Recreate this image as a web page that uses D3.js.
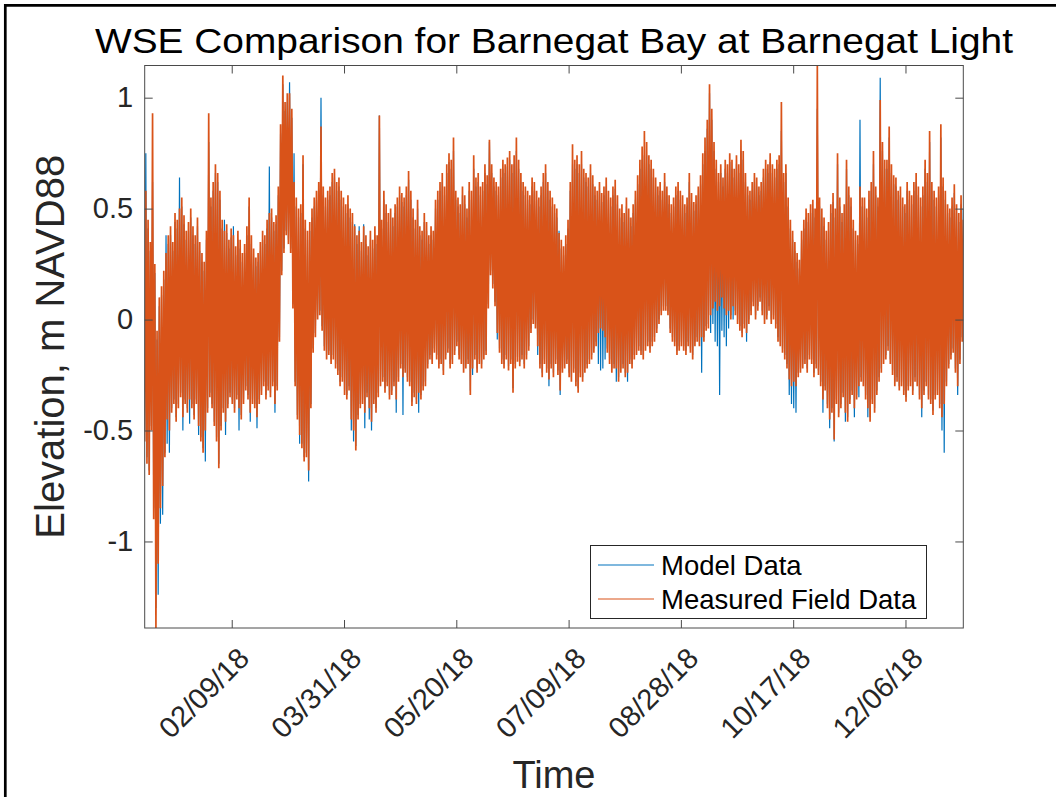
<!DOCTYPE html>
<html>
<head>
<meta charset="utf-8">
<script src="https://cdn.jsdelivr.net/npm/d3@7"></script>
<style>
  html, body { margin: 0; padding: 0; background: #fff; }
  svg { display: block; font-family: "Liberation Sans", Arial, Helvetica, sans-serif; }
</style>
</head>
<body>
<svg id="chart" width="1056" height="797"></svg>
<script>
// Daily water surface elevation extremes (m NAVD88), 2018, one high and one low per day.
const startDate = "2018-01-01";

const measuredHigh = [
  0.58, 0.45, 0.35, 0.93, 0.25, -0.05, 0.10, 0.15, 0.22, 0.30,
  0.38, 0.42, 0.35, 0.48, 0.45, 0.50, 0.55, 0.47, 0.40, 0.44,
  0.50, 0.42, 0.38, 0.46, 0.35, 0.30, 0.26, 0.40, 0.93, 0.55,
  0.62, 0.70, 0.66, 0.58, 0.45, 0.40, 0.43, 0.36, 0.41, 0.38,
  0.33, 0.40, 0.36, 0.30, 0.34, 0.42, 0.55, 0.38, 0.32, 0.28,
  0.30, 0.35, 0.40, 0.38, 0.45, 0.48, 0.50, 0.44, 0.47, 0.60,
  0.88, 1.10, 0.98, 1.02, 1.02, 0.95, 0.62, 0.55, 0.50, 0.52,
  0.74, 0.45, 0.40, 0.44, 0.50, 0.55, 0.58, 0.62, 0.87, 0.60,
  0.55, 0.58, 0.60, 0.66, 0.68, 0.62, 0.64, 0.58, 0.55, 0.52,
  0.56, 0.50, 0.48, 0.42, 0.38, 0.40, 0.35, 0.42, 0.38, 0.33,
  0.40, 0.36, 0.42, 0.38, 0.92, 0.45, 0.58, 0.52, 0.48, 0.50,
  0.46, 0.52, 0.55, 0.60, 0.57, 0.55, 0.60, 0.67, 0.58, 0.50,
  0.45, 0.54, 0.42, 0.40, 0.48, 0.44, 0.38, 0.42, 0.40, 0.54,
  0.58, 0.62, 0.66, 0.60, 0.70, 0.75, 0.72, 0.82, 0.58, 0.55,
  0.52, 0.60, 0.56, 0.50, 0.62, 0.58, 0.74, 0.64, 0.66, 0.60,
  0.62, 0.70, 0.65, 0.81, 0.70, 0.64, 0.62, 0.60, 0.68, 0.72,
  0.70, 0.73, 0.76, 0.70, 0.74, 0.82, 0.72, 0.66, 0.62, 0.60,
  0.58, 0.56, 0.64, 0.62, 0.58, 0.55, 0.60, 0.66, 0.70, 0.62,
  0.58, 0.55, 0.52, 0.50, 0.39, 0.36, 0.33, 0.38, 0.45, 0.62,
  0.79, 0.72, 0.74, 0.70, 0.76, 0.68, 0.66, 0.64, 0.70, 0.65,
  0.60, 0.58, 0.62, 0.57, 0.60, 0.64, 0.58, 0.55, 0.60, 0.63,
  0.56, 0.50, 0.52, 0.48, 0.55, 0.50, 0.46, 0.52, 0.58, 0.65,
  0.72, 0.78, 0.85, 0.80, 0.74, 0.72, 0.68, 0.64, 0.60, 0.62,
  0.58, 0.66, 0.60, 0.56, 0.52, 0.55, 0.60, 0.62, 0.58, 0.56,
  0.52, 0.55, 0.66, 0.57, 0.53, 0.56, 0.60, 0.65, 0.75, 0.82,
  0.90, 1.06, 0.95, 0.80, 0.72, 0.66, 0.70, 0.64, 0.72, 0.70,
  0.75, 0.72, 0.68, 0.74, 0.70, 0.81, 0.76, 0.66, 0.60, 0.58,
  0.62, 0.66, 0.64, 0.60, 0.62, 0.68, 0.72, 0.70, 0.75, 0.70,
  0.68, 0.72, 0.74, 0.98, 0.66, 0.70, 0.55, 0.45, 0.40, 0.35,
  0.30, 0.27, 0.40, 0.45, 0.50, 0.48, 0.52, 0.54, 0.50, 1.145,
  0.55, 0.50, 0.46, 0.40, 0.44, 0.52, 0.57, 0.50, 0.75, 0.55,
  0.48, 0.52, 0.72, 0.60, 0.55, 0.45, 0.40, 0.38, 0.60, 0.55,
  0.55, 0.50, 0.58, 0.62, 0.76, 0.60, 0.55, 0.99, 0.80, 0.72,
  0.72, 0.87, 0.70, 0.65, 0.64, 0.58, 0.60, 0.55, 0.52, 0.62,
  0.58, 0.56, 0.62, 0.66, 0.60, 0.55, 0.60, 0.72, 0.66, 0.85,
  0.62, 0.58, 0.55, 0.60, 0.88, 0.64, 0.58, 0.52, 0.50, 0.55,
  0.61, 0.52, 0.48, 0.56, 0.45
];

const measuredLow = [
  -0.55, -0.65, -0.70, -0.50, -0.90, -1.39, -1.10, -0.85, -0.75, -0.62,
  -0.45, -0.50, -0.42, -0.38, -0.46, -0.40, -0.35, -0.44, -0.38, -0.42,
  -0.36, -0.40, -0.45, -0.38, -0.48, -0.55, -0.60, -0.50, -0.42, -0.35,
  -0.40, -0.48, -0.55, -0.67, -0.50, -0.42, -0.46, -0.40, -0.35, -0.38,
  -0.42, -0.36, -0.40, -0.45, -0.38, -0.32, -0.36, -0.42, -0.38, -0.40,
  -0.44, -0.38, -0.34, -0.30, -0.36, -0.32, -0.35, -0.30, -0.38, -0.32,
  -0.10, 0.20, 0.30, 0.38, 0.34, 0.30, 0.05, -0.30, -0.45, -0.52,
  -0.58, -0.64, -0.62, -0.68, -0.40, -0.15, -0.08, 0.00, 0.02, -0.05,
  -0.14, -0.18, -0.16, -0.20, -0.18, -0.22, -0.25, -0.30, -0.28, -0.34,
  -0.36, -0.32, -0.45, -0.50, -0.59, -0.45, -0.40, -0.38, -0.42, -0.35,
  -0.40, -0.46, -0.38, -0.42, -0.35, -0.30, -0.28, -0.33, -0.30, -0.36,
  -0.34, -0.30, -0.36, -0.28, -0.22, -0.26, -0.24, -0.28, -0.30, -0.39,
  -0.35, -0.38, -0.33, -0.36, -0.32, -0.30, -0.22, -0.18, -0.20, -0.15,
  -0.18, -0.22, -0.20, -0.25, -0.18, -0.15, -0.22, -0.20, -0.16, -0.12,
  -0.18, -0.20, -0.24, -0.22, -0.20, -0.34, -0.22, -0.18, -0.24, -0.20,
  -0.22, -0.18, -0.16, 0.05, 0.20, 0.14, 0.06, -0.06, -0.15, -0.20,
  -0.22, -0.18, -0.23, -0.20, -0.33, -0.22, -0.19, -0.21, -0.18, -0.22,
  -0.18, -0.14, -0.06, -0.02, -0.04, -0.12, -0.22, -0.26, -0.20, -0.24,
  -0.27, -0.22, -0.26, -0.20, -0.25, -0.32, -0.24, -0.22, -0.20, -0.26,
  -0.28, -0.24, -0.30, -0.33, -0.26, -0.28, -0.24, -0.22, -0.20, -0.18,
  -0.15, -0.12, -0.06, -0.04, -0.05, -0.08, -0.15, -0.20, -0.24, -0.22,
  -0.22, -0.28, -0.24, -0.22, -0.26, -0.24, -0.20, -0.22, -0.18, -0.16,
  -0.14, -0.16, -0.18, -0.14, -0.12, -0.15, -0.12, -0.10, -0.06, -0.02,
  0.02, 0.04, 0.04, 0.02, -0.06, -0.10, -0.12, -0.16, -0.14, -0.12,
  -0.14, -0.16, -0.12, -0.15, -0.18, -0.12, -0.10, -0.12, -0.08, -0.10,
  -0.05, -0.04, 0.02, 0.05, 0.08, 0.04, 0.06, 0.10, 0.05, 0.02,
  0.04, 0.00, 0.06, 0.02, -0.02, -0.05, -0.08, -0.04, -0.06, -0.02,
  0.02, 0.06, 0.00, 0.04, 0.08, 0.02, -0.02, 0.00, 0.04, -0.02,
  0.00, -0.04, -0.10, -0.12, -0.15, -0.18, -0.22, -0.27, -0.30, -0.28,
  -0.30, -0.26, -0.24, -0.22, -0.20, -0.24, -0.18, -0.20, -0.26, -0.22,
  -0.25, -0.30, -0.36, -0.32, -0.40, -0.45, -0.42, -0.54, -0.38, -0.44,
  -0.40, -0.35, -0.42, -0.46, -0.38, -0.34, -0.40, -0.36, -0.30, -0.28,
  -0.30, -0.36, -0.40, -0.46, -0.38, -0.42, -0.34, -0.28, -0.24, -0.20,
  -0.18, -0.14, -0.20, -0.25, -0.30, -0.28, -0.32, -0.30, -0.34, -0.37,
  -0.32, -0.30, -0.34, -0.28, -0.30, -0.36, -0.40, -0.34, -0.30, -0.36,
  -0.38, -0.43, -0.36, -0.34, -0.40, -0.44, -0.38, -0.30, -0.22, -0.18,
  -0.15, -0.24, -0.30, -0.20, -0.10
];

const modelHigh = [
  0.75, 0.41, 0.31, 0.62, 0.21, -0.09, 0.06, 0.11, 0.18, 0.38,
  0.34, 0.38, 0.31, 0.44, 0.41, 0.64, 0.51, 0.43, 0.36, 0.40,
  0.46, 0.38, 0.34, 0.42, 0.31, 0.26, 0.22, 0.36, 0.80, 0.51,
  0.58, 0.66, 0.62, 0.54, 0.41, 0.45, 0.39, 0.32, 0.37, 0.42,
  0.29, 0.36, 0.32, 0.26, 0.30, 0.38, 0.51, 0.34, 0.28, 0.24,
  0.26, 0.31, 0.36, 0.34, 0.41, 0.69, 0.46, 0.40, 0.43, 0.56,
  0.84, 1.06, 0.94, 0.98, 1.07, 0.91, 0.75, 0.51, 0.46, 0.48,
  0.70, 0.41, 0.36, 0.40, 0.46, 0.51, 0.54, 0.58, 1.00, 0.56,
  0.51, 0.54, 0.56, 0.62, 0.64, 0.58, 0.60, 0.54, 0.51, 0.48,
  0.52, 0.46, 0.44, 0.43, 0.34, 0.42, 0.31, 0.43, 0.34, 0.29,
  0.36, 0.32, 0.38, 0.34, 0.92, 0.41, 0.54, 0.48, 0.44, 0.46,
  0.42, 0.48, 0.51, 0.56, 0.53, 0.51, 0.56, 0.63, 0.54, 0.46,
  0.41, 0.50, 0.38, 0.36, 0.44, 0.40, 0.34, 0.38, 0.36, 0.50,
  0.54, 0.58, 0.62, 0.56, 0.66, 0.71, 0.68, 0.76, 0.54, 0.51,
  0.48, 0.56, 0.52, 0.46, 0.58, 0.54, 0.68, 0.60, 0.62, 0.56,
  0.58, 0.66, 0.61, 0.80, 0.66, 0.60, 0.58, 0.56, 0.64, 0.68,
  0.66, 0.69, 0.72, 0.66, 0.70, 0.76, 0.68, 0.62, 0.58, 0.56,
  0.54, 0.52, 0.60, 0.58, 0.54, 0.51, 0.56, 0.62, 0.66, 0.58,
  0.54, 0.51, 0.48, 0.46, 0.40, 0.32, 0.29, 0.34, 0.41, 0.58,
  0.70, 0.68, 0.70, 0.66, 0.70, 0.64, 0.62, 0.60, 0.66, 0.61,
  0.56, 0.54, 0.58, 0.53, 0.56, 0.60, 0.54, 0.51, 0.56, 0.59,
  0.52, 0.46, 0.48, 0.44, 0.51, 0.46, 0.42, 0.48, 0.54, 0.61,
  0.68, 0.72, 0.74, 0.74, 0.70, 0.68, 0.64, 0.60, 0.56, 0.58,
  0.54, 0.62, 0.56, 0.52, 0.48, 0.51, 0.56, 0.58, 0.54, 0.52,
  0.48, 0.51, 0.62, 0.53, 0.49, 0.52, 0.56, 0.61, 0.70, 0.76,
  0.86, 1.02, 0.90, 0.76, 0.68, 0.62, 0.66, 0.60, 0.68, 0.66,
  0.71, 0.68, 0.64, 0.70, 0.66, 0.76, 0.72, 0.62, 0.56, 0.54,
  0.58, 0.62, 0.60, 0.56, 0.58, 0.64, 0.68, 0.66, 0.71, 0.66,
  0.64, 0.68, 0.70, 0.85, 0.62, 0.66, 0.51, 0.41, 0.36, 0.31,
  0.26, 0.23, 0.36, 0.41, 0.46, 0.44, 0.48, 0.50, 0.46, 0.95,
  0.51, 0.46, 0.42, 0.36, 0.40, 0.48, 0.53, 0.46, 0.70, 0.51,
  0.44, 0.48, 0.68, 0.56, 0.51, 0.41, 0.36, 0.34, 0.90, 0.51,
  0.51, 0.46, 0.54, 0.58, 0.70, 0.56, 0.51, 1.09, 0.76, 0.68,
  0.68, 0.82, 0.66, 0.61, 0.60, 0.54, 0.56, 0.51, 0.48, 0.58,
  0.54, 0.52, 0.58, 0.62, 0.56, 0.51, 0.56, 0.68, 0.62, 0.80,
  0.58, 0.54, 0.51, 0.56, 0.82, 0.60, 0.54, 0.48, 0.46, 0.51,
  0.57, 0.48, 0.44, 0.52, 0.50
];

const modelLow = [
  -0.50, -0.62, -0.68, -0.48, -0.85, -1.30, -1.24, -0.92, -0.88, -0.60,
  -0.56, -0.60, -0.40, -0.36, -0.44, -0.38, -0.33, -0.50, -0.36, -0.40,
  -0.47, -0.38, -0.43, -0.36, -0.52, -0.53, -0.58, -0.64, -0.40, -0.33,
  -0.38, -0.46, -0.53, -0.65, -0.48, -0.40, -0.52, -0.38, -0.33, -0.36,
  -0.40, -0.34, -0.50, -0.43, -0.36, -0.30, -0.34, -0.46, -0.36, -0.38,
  -0.49, -0.36, -0.32, -0.28, -0.34, -0.30, -0.33, -0.28, -0.42, -0.30,
  -0.08, 0.22, 0.32, 0.40, 0.36, 0.32, 0.07, -0.28, -0.43, -0.56,
  -0.56, -0.62, -0.60, -0.73, -0.38, -0.13, -0.06, 0.02, 0.04, -0.03,
  -0.12, -0.16, -0.14, -0.18, -0.16, -0.20, -0.23, -0.28, -0.26, -0.32,
  -0.34, -0.30, -0.50, -0.55, -0.57, -0.43, -0.38, -0.36, -0.49, -0.33,
  -0.45, -0.50, -0.36, -0.40, -0.33, -0.28, -0.26, -0.31, -0.28, -0.34,
  -0.32, -0.28, -0.42, -0.26, -0.20, -0.43, -0.22, -0.26, -0.28, -0.37,
  -0.33, -0.36, -0.42, -0.34, -0.30, -0.28, -0.20, -0.16, -0.18, -0.13,
  -0.16, -0.20, -0.18, -0.23, -0.16, -0.13, -0.20, -0.18, -0.14, -0.10,
  -0.16, -0.18, -0.22, -0.20, -0.18, -0.32, -0.25, -0.16, -0.22, -0.18,
  -0.20, -0.16, -0.14, 0.07, 0.22, 0.16, 0.08, -0.09, -0.13, -0.18,
  -0.20, -0.16, -0.21, -0.18, -0.31, -0.20, -0.17, -0.19, -0.16, -0.20,
  -0.16, -0.12, -0.04, 0.00, -0.02, -0.16, -0.20, -0.24, -0.18, -0.22,
  -0.30, -0.20, -0.24, -0.18, -0.23, -0.34, -0.22, -0.20, -0.18, -0.24,
  -0.26, -0.22, -0.28, -0.31, -0.24, -0.26, -0.22, -0.20, -0.18, -0.16,
  -0.13, -0.10, -0.20, -0.23, -0.22, -0.18, -0.13, -0.18, -0.22, -0.20,
  -0.28, -0.26, -0.22, -0.20, -0.24, -0.28, -0.18, -0.20, -0.16, -0.14,
  -0.12, -0.14, -0.16, -0.12, -0.10, -0.13, -0.10, -0.08, -0.04, 0.00,
  0.04, 0.06, 0.06, 0.04, -0.04, -0.08, -0.10, -0.14, -0.12, -0.10,
  -0.12, -0.14, -0.10, -0.13, -0.16, -0.10, -0.08, -0.10, -0.24, -0.08,
  -0.03, -0.02, -0.06, -0.02, -0.10, -0.12, -0.34, -0.05, -0.08, -0.12,
  -0.04, 0.02, 0.00, 0.04, 0.00, -0.03, -0.06, -0.02, -0.10, 0.00,
  0.04, 0.08, 0.02, 0.06, 0.10, 0.04, 0.00, 0.02, 0.06, 0.00,
  0.02, -0.02, -0.08, -0.10, -0.13, -0.16, -0.20, -0.34, -0.38, -0.40,
  -0.42, -0.24, -0.22, -0.20, -0.18, -0.22, -0.16, -0.18, -0.24, -0.20,
  -0.23, -0.28, -0.42, -0.30, -0.38, -0.49, -0.40, -0.55, -0.36, -0.42,
  -0.38, -0.33, -0.46, -0.44, -0.36, -0.32, -0.44, -0.34, -0.35, -0.26,
  -0.28, -0.34, -0.44, -0.44, -0.36, -0.40, -0.32, -0.26, -0.22, -0.18,
  -0.16, -0.12, -0.18, -0.23, -0.28, -0.26, -0.30, -0.28, -0.32, -0.35,
  -0.30, -0.28, -0.32, -0.26, -0.28, -0.34, -0.44, -0.32, -0.28, -0.34,
  -0.36, -0.41, -0.34, -0.32, -0.38, -0.50, -0.60, -0.28, -0.20, -0.16,
  -0.13, -0.22, -0.34, -0.18, -0.08
];

const tickDates = ["2018-02-09", "2018-03-31", "2018-05-20", "2018-07-09", "2018-08-28", "2018-10-17", "2018-12-06"];
const tickLabels = ["02/09/18", "03/31/18", "05/20/18", "07/09/18", "08/28/18", "10/17/18", "12/06/18"];
const yTicks = [-1, -0.5, 0, 0.5, 1];
const yTickLabels = ["-1", "-0.5", "0", "0.5", "1"];
const seriesNames = ["Model Data", "Measured Field Data"];
const seriesColors = ["#0072BD", "#D95319"];
const seriesWidths = [1.2, 1.7];

const titleText = "WSE Comparison for Barnegat Bay at Barnegat Light";
const xLabelText = "Time";
const yLabelText = "Elevation, m NAVD88";

// ---- layout ----
const W = 1056, H = 797;
const plot = { left: 144.7, right: 963.3, top: 65.5, bottom: 628 };
const tickLen = 8;
const axisColor = "#4a4a4a";
const textColor = "#262626";

const parseDay = d3.utcParse("%Y-%m-%d");
const t0 = parseDay(startDate);
const HOUR = 3600 * 1000;

// Low water in the morning, high water in the evening of each day.
function buildSeries(hi, lo) {
  const pts = [];
  for (let i = 0; i < hi.length; i++) {
    pts.push({ t: new Date(+t0 + (i * 24 + 6) * HOUR), v: lo[i] });
    pts.push({ t: new Date(+t0 + (i * 24 + 18) * HOUR), v: hi[i] });
  }
  return pts;
}
const series = [
  buildSeries(modelHigh, modelLow),
  buildSeries(measuredHigh, measuredLow)
];
const allPts = series.flat();

const x = d3.scaleUtc()
  .domain(d3.extent(allPts, d => d.t))
  .range([plot.left, plot.right]);
const y = d3.scaleLinear()
  .domain(d3.extent(allPts, d => d.v))
  .range([plot.bottom, plot.top]);

const svg = d3.select("#chart");
svg.append("rect").attr("width", W).attr("height", H).attr("fill", "#fff");

// figure frame (top and left edges)
svg.append("line").attr("x1", 4).attr("x2", W).attr("y1", 5.3).attr("y2", 5.3)
  .attr("stroke", "#000").attr("stroke-width", 2.7);
svg.append("line").attr("x1", 5.3).attr("x2", 5.3).attr("y1", 4).attr("y2", H)
  .attr("stroke", "#000").attr("stroke-width", 2.7);

svg.append("defs").append("clipPath").attr("id", "plotClip")
  .append("rect")
  .attr("x", plot.left).attr("y", plot.top)
  .attr("width", plot.right - plot.left).attr("height", plot.bottom - plot.top);

// ---- data lines ----
const line = d3.line().x(d => x(d.t)).y(d => y(d.v));
const gLines = svg.append("g").attr("clip-path", "url(#plotClip)");
series.forEach((s, i) => {
  gLines.append("path")
    .datum(s)
    .attr("fill", "none")
    .attr("stroke", seriesColors[i])
    .attr("stroke-width", seriesWidths[i])
    .attr("stroke-linejoin", "miter")
    .attr("stroke-miterlimit", 1.5)
    .attr("d", line);
});

// ---- axes box + inward ticks ----
const xTickVals = tickDates.map(parseDay);
function styleAxis(g) {
  g.select(".domain").remove();
  g.selectAll(".tick line").attr("stroke", axisColor).attr("stroke-width", 1);
}
svg.append("g").attr("transform", `translate(0,${plot.bottom})`)
  .call(d3.axisBottom(x).tickValues(xTickVals).tickSize(-tickLen).tickFormat(""))
  .call(styleAxis);
svg.append("g").attr("transform", `translate(0,${plot.top})`)
  .call(d3.axisTop(x).tickValues(xTickVals).tickSize(-tickLen).tickFormat(""))
  .call(styleAxis);
svg.append("g").attr("transform", `translate(${plot.right},0)`)
  .call(d3.axisRight(y).tickValues(yTicks).tickSize(-tickLen).tickFormat(""))
  .call(styleAxis);
const yAxisG = svg.append("g").attr("transform", `translate(${plot.left},0)`)
  .call(d3.axisLeft(y).tickValues(yTicks).tickSize(-tickLen).tickPadding(11.5)
    .tickFormat((d, i) => yTickLabels[i]))
  .call(styleAxis);
yAxisG.selectAll(".tick text")
  .attr("fill", textColor)
  .style("font-size", "29px")
  .style("font-family", "'Liberation Sans', Arial, sans-serif");

svg.append("rect")
  .attr("x", plot.left).attr("y", plot.top)
  .attr("width", plot.right - plot.left).attr("height", plot.bottom - plot.top)
  .attr("fill", "none").attr("stroke", axisColor).attr("stroke-width", 1);

// rotated date labels
svg.append("g").selectAll("text")
  .data(xTickVals)
  .join("text")
  .attr("transform", d => `translate(${x(d) + 12},${plot.bottom + 25}) rotate(-45)`)
  .attr("text-anchor", "end")
  .attr("dy", "0.35em")
  .attr("fill", textColor)
  .style("font-size", "29px")
  .text((d, i) => tickLabels[i]);

// ---- titles ----
svg.append("text")
  .attr("x", (plot.left + plot.right) / 2).attr("y", 53)
  .attr("text-anchor", "middle")
  .attr("textLength", 918).attr("lengthAdjust", "spacingAndGlyphs")
  .attr("fill", "#000")
  .style("font-size", "35px")
  .text(titleText);

svg.append("text")
  .attr("x", (plot.left + plot.right) / 2).attr("y", 788)
  .attr("text-anchor", "middle")
  .attr("fill", textColor)
  .style("font-size", "38px")
  .text(xLabelText);

svg.append("text")
  .attr("transform", `translate(64,${(plot.top + plot.bottom) / 2}) rotate(-90)`)
  .attr("text-anchor", "middle")
  .attr("fill", textColor)
  .style("font-size", "40px")
  .text(yLabelText);

// ---- legend ----
const leg = svg.append("g");
leg.append("rect")
  .attr("x", 590.5).attr("y", 545.5).attr("width", 336).attr("height", 73)
  .attr("fill", "#fff").attr("stroke", "#262626").attr("stroke-width", 1);
seriesNames.forEach((name, i) => {
  const cy = 565 + i * 34;
  leg.append("line")
    .attr("x1", 598).attr("x2", 654).attr("y1", cy).attr("y2", cy)
    .attr("stroke", seriesColors[i]).attr("stroke-width", 1.2);
  leg.append("text")
    .attr("x", 661).attr("y", cy + 10)
    .attr("fill", "#000")
    .style("font-size", "27.5px")
    .text(name);
});
</script>
</body>
</html>
